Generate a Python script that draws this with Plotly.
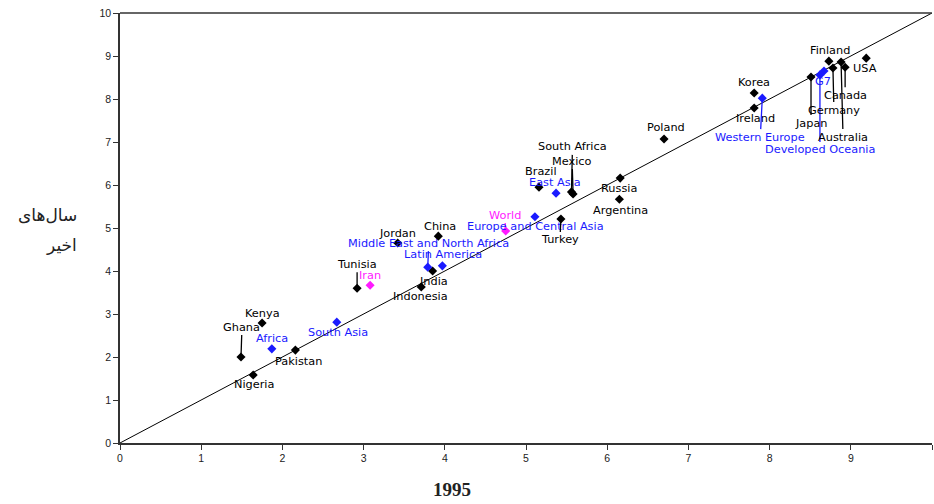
import plotly.graph_objects as go

# ---- data ----
names = ["Nigeria", "Ghana", "Kenya", "Africa", "Pakistan", "South Asia", "Tunisia", "Iran",
         "Indonesia", "India", "Middle East and North Africa", "Latin America", "Jordan", "China",
         "World", "Europe and Central Asia", "Turkey", "Brazil", "East Asia", "South Africa", "Mexico",
         "Russia", "Argentina", "Poland", "Korea", "Ireland", "Western Europe", "Japan",
         "Developed Oceania", "G7", "Finland", "Germany", "Australia", "Canada", "USA"]
x_1995 = [1.64, 1.49, 1.75, 1.87, 2.16, 2.67, 2.92, 3.08,
          3.71, 3.85, 3.79, 3.97, 3.42, 3.92,
          4.75, 5.11, 5.43, 5.16, 5.37, 5.56, 5.58,
          6.16, 6.15, 6.70, 7.81, 7.81, 7.91, 8.51,
          8.62, 8.67, 8.73, 8.78, 8.88, 8.93, 9.19]
y_recent = [1.58, 2.00, 2.79, 2.19, 2.16, 2.81, 3.60, 3.67,
            3.63, 4.00, 4.09, 4.12, 4.65, 4.81,
            4.93, 5.26, 5.21, 5.95, 5.81, 5.84, 5.79,
            6.16, 5.67, 7.07, 8.14, 7.79, 8.02, 8.51,
            8.56, 8.65, 8.88, 8.72, 8.86, 8.74, 8.95]
kind = ["c", "c", "c", "r", "c", "r", "c", "i",
        "c", "c", "r", "r", "c", "c",
        "w", "r", "c", "c", "r", "c", "c",
        "c", "c", "c", "c", "c", "r", "c",
        "r", "r", "c", "c", "c", "c", "c"]
x_ticks = [0, 1, 2, 3, 4, 5, 6, 7, 8, 9, 10]
y_ticks = [0, 1, 2, 3, 4, 5, 6, 7, 8, 9, 10]
x_title = "1995"
y_title_lines = ["سال‌های", "اخیر"]

# ---- label layout (pixel offsets of text from point, and whether a leader line is drawn) ----
label_offset = {
    "Nigeria": (1, 9, False), "Ghana": (1, -30, True), "Kenya": (0, -10, False),
    "Africa": (0, -10, False), "Pakistan": (3, 11, False), "South Asia": (1, 10, False),
    "Tunisia": (0, -24, True), "Iran": (0, -10, False), "Indonesia": (-1, 10, False),
    "India": (1, 10, False), "Middle East and North Africa": (1, -24, True),
    "Latin America": (1, -11, False), "Jordan": (0, -10, False), "China": (2, -10, False),
    "World": (-1, -16, True), "Europe and Central Asia": (1, 10, False), "Turkey": (-1, 21, True),
    "Brazil": (2, -16, False), "East Asia": (-1, -11, False), "South Africa": (1, -45, True),
    "Mexico": (-1, -33, True), "Russia": (-1, 10, False), "Argentina": (1, 11, False),
    "Poland": (2, -11, False), "Korea": (0, -10, False), "Ireland": (1, 10, False),
    "Western Europe": (-2, 39, True), "Japan": (0, 46, True), "Developed Oceania": (0, 75, True),
    "G7": (-1, 10, False), "Finland": (1, -11, False), "Germany": (1, 42, True),
    "Australia": (2, 75, True), "Canada": (0, 28, True), "USA": (-1, 10, False),
}
colors = {"c": "#000000", "r": "#1a1aff", "w": "#ff1aff", "i": "#ff1aff"}

fig = go.Figure()

# diagonal reference line
fig.add_trace(go.Scatter(x=[x_ticks[0], x_ticks[-1]], y=[y_ticks[0], y_ticks[-1]], mode="lines",
                         line=dict(color="#000000", width=1), hoverinfo="skip", showlegend=False))

fig.add_trace(go.Scatter(x=x_1995, y=y_recent, mode="markers", text=names,
                         marker=dict(symbol="diamond", size=7, color=[colors[k] for k in kind]),
                         showlegend=False))

anns = []
for n, xv, yv, k in zip(names, x_1995, y_recent, kind):
    dx, dy, line = label_offset[n]
    anns.append(dict(x=xv, y=yv, xref="x", yref="y", text=n, showarrow=True,
                     ax=dx, ay=dy, arrowhead=0, arrowwidth=1.3, standoff=0,
                     arrowcolor=colors[k] if line else "rgba(0,0,0,0)",
                     font=dict(family="DejaVu Sans, Verdana, sans-serif", size=11.3, color=colors[k])))

yfont = dict(family="DejaVu Sans, Noto Sans, sans-serif", size=17, color="#222222")
anns.append(dict(x=-0.05, y=0.53, xref="paper", yref="paper", xanchor="right", yanchor="middle",
                 text=y_title_lines[0], showarrow=False, font=yfont))
anns.append(dict(x=-0.05, y=0.46, xref="paper", yref="paper", xanchor="right", yanchor="middle",
                 text=y_title_lines[1], showarrow=False, font=yfont))
anns.append(dict(x=0.409, y=-0.109, xref="paper", yref="paper", text="<b>" + x_title + "</b>",
                 showarrow=False, yanchor="middle",
                 font=dict(family="Liberation Serif, Times New Roman, serif", size=19, color="#222222")))

fig.update_layout(
    width=934, height=504,
    margin=dict(l=120, r=2, t=13, b=61),
    paper_bgcolor="white", plot_bgcolor="white",
    annotations=anns,
    xaxis=dict(range=[0, 10], tickvals=x_ticks, ticks="outside", ticklen=5, tickcolor="#333",
               showgrid=False, zeroline=False, showline=True, linecolor="#333", linewidth=1.5,
               mirror=False, tickfont=dict(family="Liberation Sans, Arial", size=10.5, color="#222")),
    yaxis=dict(range=[0, 10], tickvals=y_ticks, ticks="outside", ticklen=5, tickcolor="#333",
               showgrid=False, zeroline=False, showline=True, linecolor="#333", linewidth=1.5,
               tickfont=dict(family="Liberation Sans, Arial", size=10.5, color="#222")),
    shapes=[dict(type="line", xref="paper", yref="paper", x0=0, x1=1, y0=1, y1=1,
                 line=dict(color="#333", width=1.5))],
)

fig.write_html("out.html", config={"displayModeBar": False},
               post_script="document.body.style.margin='0';document.body.style.overflow='hidden';")
